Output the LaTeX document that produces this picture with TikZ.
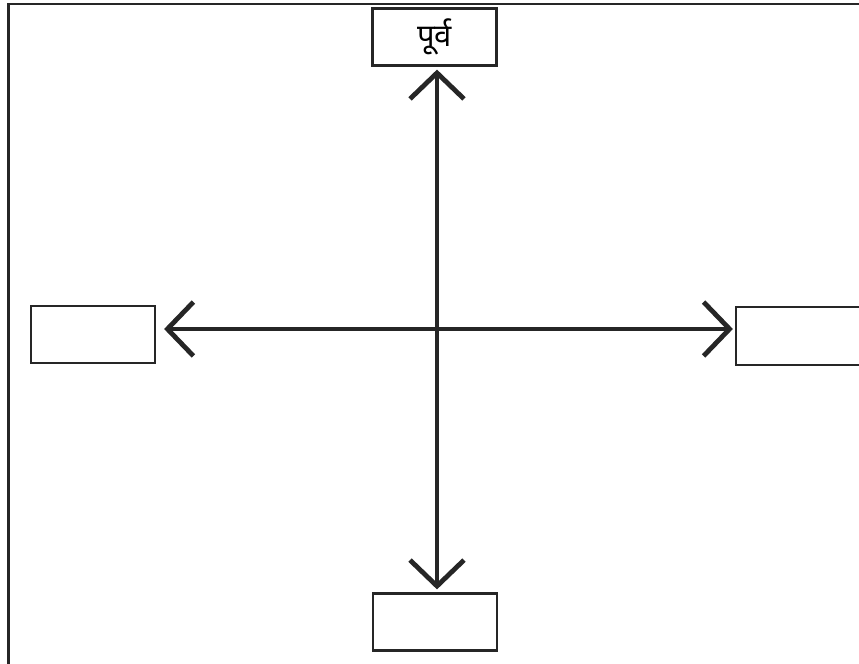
\documentclass[tikz,border=0pt]{standalone}
\usepackage{fontspec}
\newfontfamily\devfont[Script=Devanagari]{Noto Sans}
\usetikzlibrary{arrows.meta}
\begin{document}
\begin{tikzpicture}[x=0.5pt,y=-0.5pt,
  dirbox/.style={draw=black!85, line width=1.1pt, minimum width=62pt, minimum height=28.5pt, inner sep=0pt, fill=white},
  axis/.style={draw=black!85, line width=2.4pt, -{Straight Barb[length=13pt,width=27pt,line cap=butt]}},
  frame/.style={draw=black!85, line width=1.1pt}]
  \useasboundingbox (0,0) rectangle (859,664);
  \clip (0,0) rectangle (859,664);
  % outer frame (top and left sides)
  \draw[frame] (8.5,664) -- (8.5,4) -- (859,4);
  % direction boxes
  \node[dirbox] (top) at (434.5,37) {\devfont\fontsize{15.5pt}{18pt}\selectfont पूर्व};
  \node[dirbox] (left) at (93,334.5) {};
  \node[dirbox, minimum height=29pt] (right) at (798,336) {};
  \node[dirbox] (bottom) at (435,622) {};
  % centre of the cross
  \coordinate (c) at (437,329);
  \draw[axis] (c) -- ([yshift=-1.5pt]c |- top.south);
  \draw[axis] (c) -- ([yshift=1.5pt]c |- bottom.north);
  \draw[axis] (c) -- ([xshift=4pt]c -| left.east);
  \draw[axis] (c) -- ([xshift=-1pt]c -| right.west);
\end{tikzpicture}
\end{document}
